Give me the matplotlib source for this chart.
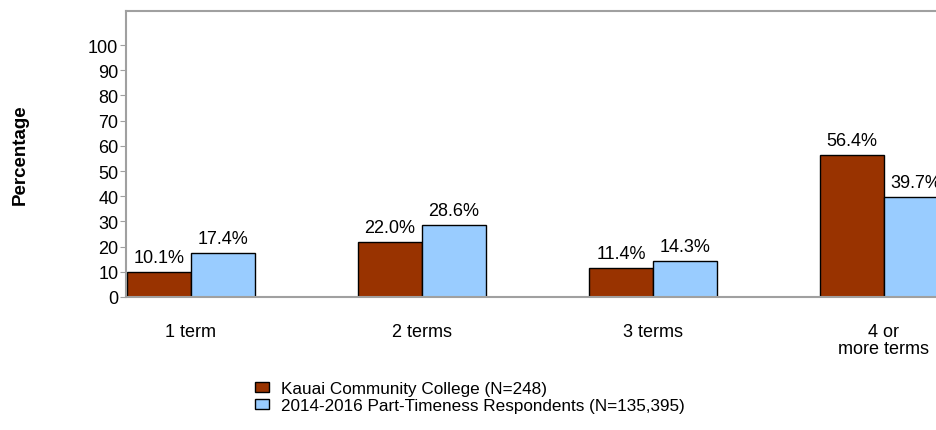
import numpy as np
import matplotlib.pyplot as plt

plt.rcParams['font.family'] = ['Liberation Sans', 'DejaVu Sans']

categories = ['1 term', '2 terms', '3 terms', '4 or\nmore terms']
college = [10.1, 22.0, 11.4, 56.4]
national = [17.4, 28.6, 14.3, 39.7]
series_names = ['Kauai Community College (N=248)',
                '2014-2016 Part-Timeness Respondents (N=135,395)']
yticks = [0, 10, 20, 30, 40, 50, 60, 70, 80, 90, 100]

fig = plt.figure(figsize=(9.37, 4.31), dpi=100)
# axes runs off the right edge, as in the original
ax = fig.add_axes([126 / 937, 133 / 431, 873.5 / 937, 286 / 431])

x = np.arange(len(categories))
w = 0.277
b1 = ax.bar(x - w / 2, college, w, color='#993300', edgecolor='black', linewidth=1.0,
            label=series_names[0])
b2 = ax.bar(x + w / 2, national, w, color='#99CCFF', edgecolor='black', linewidth=1.0,
            label=series_names[1])

for bars, vals in [(b1, college), (b2, national)]:
    for rect, v in zip(bars, vals):
        ax.text(rect.get_x() + rect.get_width() / 2, v + 2.3, f'{v:.1f}%',
                ha='center', va='bottom', fontsize=13)

ax.set_xlim(-0.281, 3.5)
ax.set_ylim(0, 113.5)
ax.set_yticks(yticks)
ax.set_xticks(x)
ax.set_xticklabels(categories, fontsize=13, linespacing=0.95)
ax.tick_params(axis='x', length=0, pad=19)
ax.tick_params(axis='y', length=4.5, color='#a0a0a0', labelsize=13, pad=1)
for side in ['top', 'bottom', 'left', 'right']:
    ax.spines[side].set_color('#a0a0a0')
    ax.spines[side].set_linewidth(1.5)

fig.text(20 / 937, 1 - 155 / 431, 'Percentage', rotation=90, ha='center', va='center',
         fontsize=13.5, fontweight='bold')

fig.legend(handles=[b1, b2], loc='upper left', bbox_to_anchor=(255 / 937, 1 - 382 / 431),
           frameon=False, fontsize=12.3, handlelength=0.8, handleheight=0.6,
           handletextpad=0.75, labelspacing=0.12, borderpad=0, borderaxespad=0)

plt.savefig('out.png', dpi=100)
